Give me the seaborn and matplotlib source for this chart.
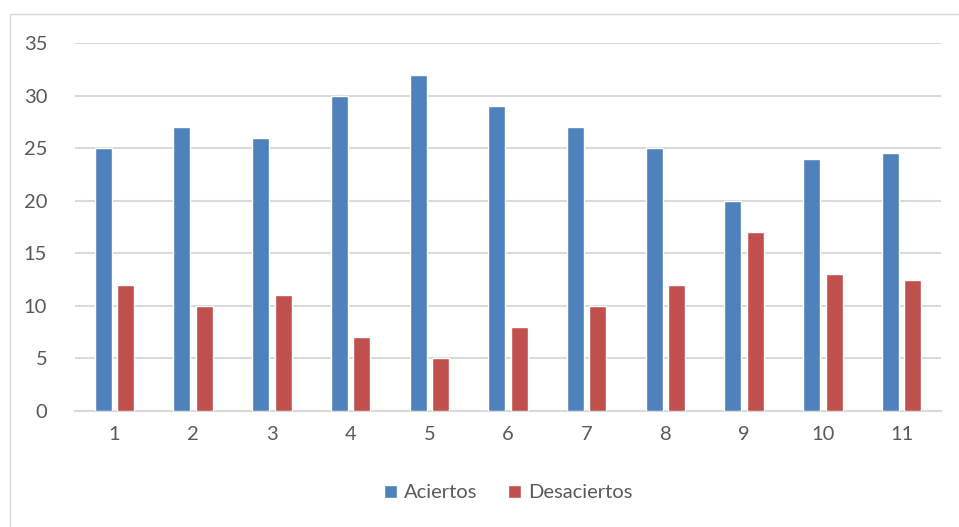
import pandas as pd
import matplotlib.pyplot as plt
import seaborn as sns
from matplotlib.patches import Rectangle

# data
categorias = ["1", "2", "3", "4", "5", "6", "7", "8", "9", "10", "11"]
aciertos = [25, 27, 26, 30, 32, 29, 27, 25, 20, 24, 24.5]
desaciertos = [12, 10, 11, 7, 5, 8, 10, 12, 17, 13, 12.5]

df = pd.DataFrame({
    "Grupo": categorias * 2,
    "Valor": aciertos + desaciertos,
    "Serie": ["Aciertos"] * len(categorias) + ["Desaciertos"] * len(categorias),
})

sns.set_style("white")
plt.rcParams["font.family"] = ["Lato", "DejaVu Sans"]

fig = plt.figure(figsize=(9.59, 5.27), dpi=100)
ax = fig.add_axes([75 / 959, 1 - 411 / 527, 866 / 959, 368 / 527])

sns.barplot(data=df, x="Grupo", y="Valor", hue="Serie",
            palette=["#4f81bd", "#c0504d"], width=0.57, gap=0.24,
            saturation=1, ax=ax, zorder=3)

ax.set_ylim(0, 35)
ax.set_yticks(range(0, 36, 5))
ax.set_xlim(-0.5, 10.5)
ax.grid(axis="y", color="#d9d9d9", linewidth=1.5, zorder=0)
for s in ["top", "right", "left"]:
    ax.spines[s].set_visible(False)
ax.spines["bottom"].set_color("#d9d9d9")
ax.spines["bottom"].set_linewidth(1.5)
ax.set_xlabel("")
ax.set_ylabel("")
ax.tick_params(axis="both", length=0, labelsize=14.5, labelcolor="#595959")
ax.tick_params(axis="y", pad=20)
ax.tick_params(axis="x", pad=11)

ax.legend(loc="upper center", bbox_to_anchor=(0.5, -0.15), ncol=2,
          frameon=False, fontsize=14.5, labelcolor="#595959",
          handlelength=0.65, handleheight=0.65, handletextpad=0.35,
          columnspacing=1.5)

# outer chart border
fig.patches.append(Rectangle((10 / 959, -0.01), 960 / 959, 1 - 14 / 527 + 0.01,
                             transform=fig.transFigure, fill=False,
                             edgecolor="#d9d9d9", linewidth=1))

plt.savefig("out.png", dpi=100)
plt.close()
